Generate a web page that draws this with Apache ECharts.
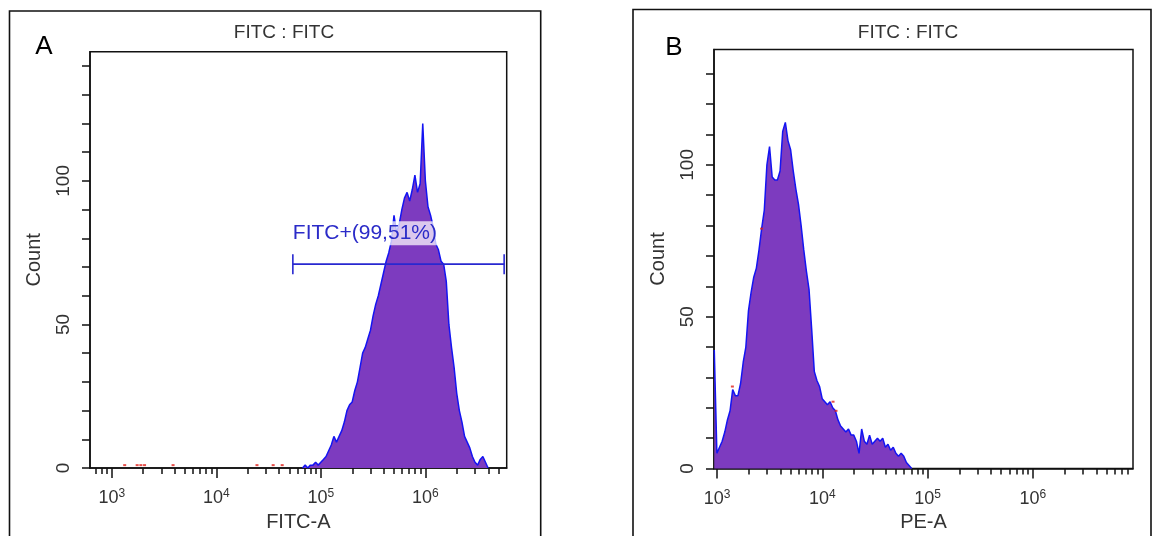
<!DOCTYPE html>
<html>
<head>
<meta charset="utf-8">
<script src="https://cdn.jsdelivr.net/npm/echarts@6/dist/echarts.min.js"></script>
<style>
  html, body { margin: 0; padding: 0; background: #fff; }
  #chart { width: 1158px; height: 536px; }
</style>
</head>
<body>
<div id="chart"></div>
<script>
// Two flow-cytometry histograms: FITC-A channel (A) and PE-A channel (B).
// Channels are evenly spaced in log10 units.
const BIN_STEP = 0.025;          // decades per channel
const binStartA = 4.825;         // log10 of first channel, FITC-A
const countsA = [
  0, 1, 0, 1, 1, 2, 1, 2, 3, 4,
  6, 8, 11, 9, 11, 13, 16, 20, 22, 23,
  27, 30, 35, 40, 42, 45, 48, 53, 57, 60,
  64, 68, 72, 75, 79, 88, 82, 85, 90, 94,
  96, 93, 97, 102, 96, 99, 120, 100, 91, 88,
  84, 78, 76, 72, 71, 65, 50, 42, 35, 26,
  20, 16, 11, 9, 7, 4, 2, 1, 3, 4,
  2, 0
];
const binStartB = 2.974;         // log10 of first channel, PE-A
const countsB = [
  39, 5, 7, 9, 12, 16, 19, 26, 24, 24,
  28, 35, 40, 52, 58, 63, 66, 72, 79, 85,
  100, 106, 96, 95, 95, 98, 111, 114, 108, 105,
  98, 92, 87, 80, 72, 65, 59, 46, 32, 29,
  27, 23, 22, 21, 22, 20, 19, 16, 14, 13,
  12, 13, 11, 11, 9, 5, 13, 9, 8, 11,
  8, 9, 10, 9, 10, 7, 8, 6, 7, 5,
  4, 5, 4, 2, 1, 0
];
// isolated events of the overlaid (red) sample: [intensity, count]
const redEventsA = [[1330, 1], [1750, 1], [1900, 1], [2060, 1], [3860, 1], [24500, 1], [35000, 1], [42700, 1]];
const redEventsB = [[1400, 27], [2650, 79], [12650, 22], [13500, 19]];

// gate on panel A
const gateLabel = 'FITC+(99,51%)';
const gateFrom = 54000;
const gateTo = 5670000;
const gateLevel = 71;

// axes
const decadeExponents = [3, 4, 5, 6];
const minorMultipliers = [2, 3, 4, 5, 6, 7, 8, 9];
const countTicks = [0, 10, 20, 30, 40, 50, 60, 70, 80, 90, 100, 110, 120, 130, 140];
const countLabels = [0, 50, 100];
const rangeA = [2.792, 6.778];   // log10 extent of FITC-A axis
const rangeB = [2.9715, 6.951];  // log10 extent of PE-A axis
const maxCountA = 145;
const maxCountB = 138;

const FONT = "'Liberation Sans', Arial, sans-serif";
const TEXT = '#333';
const FILL = '#7d3bbf';
const EDGE = '#1414f2';

const minorTicks = [];
[2, 3, 4, 5, 6].forEach(e => minorMultipliers.forEach(m => minorTicks.push(e + Math.log10(m))));

const histData = (start, counts) => counts.map((c, i) => [+(start + i * BIN_STEP).toFixed(4), c]);
const eventData = list => list.map(([v, c]) => [Math.log10(v), c]);

function majorAxis(gridIndex, range, name) {
  return {
    type: 'value', gridIndex, min: range[0], max: range[1], position: 'bottom',
    name, nameLocation: 'middle', nameGap: 44,
    nameTextStyle: { fontFamily: FONT, fontSize: 20, color: TEXT },
    splitLine: { show: false },
    axisLine: { show: true, onZero: false, lineStyle: { color: '#111', width: 1.5 } },
    axisTick: { show: true, length: 10, customValues: decadeExponents, lineStyle: { color: '#111', width: 1.5 } },
    axisLabel: {
      customValues: decadeExponents, margin: 20,
      formatter: v => '{b|10}{s|' + Math.round(v) + '}',
      rich: {
        b: { fontFamily: FONT, fontSize: 18, color: TEXT },
        s: { fontFamily: FONT, fontSize: 12, color: TEXT, padding: [0, 0, 9, 0] }
      }
    }
  };
}
function minorAxis(gridIndex, range) {
  return {
    type: 'value', gridIndex, min: range[0], max: range[1], position: 'bottom',
    splitLine: { show: false },
    axisLine: { show: false, onZero: false },
    axisTick: { show: true, length: 6, customValues: minorTicks, lineStyle: { color: '#111', width: 1.5 } },
    axisLabel: { show: false }
  };
}
function countAxis(gridIndex, max) {
  return {
    type: 'value', gridIndex, min: 0, max,
    name: 'Count', nameLocation: 'middle', nameGap: 46, nameRotate: 90,
    nameTextStyle: { fontFamily: FONT, fontSize: 20, color: TEXT },
    splitLine: { show: false },
    axisLine: { show: true, lineStyle: { color: '#111', width: 1.5 } },
    axisTick: { show: true, length: 8, customValues: countTicks, lineStyle: { color: '#111', width: 1.5 } },
    axisLabel: { customValues: countLabels, rotate: 90, margin: 17, fontFamily: FONT, fontSize: 19, color: TEXT }
  };
}
function histSeries(xAxisIndex, yAxisIndex, data) {
  return {
    type: 'line', xAxisIndex, yAxisIndex, data, symbol: 'none', smooth: false, z: 3,
    lineStyle: { color: EDGE, width: 1.5 },
    areaStyle: { color: FILL, opacity: 1 }
  };
}
function eventSeries(xAxisIndex, yAxisIndex, data) {
  return {
    type: 'scatter', xAxisIndex, yAxisIndex, data, symbol: 'rect', symbolSize: [3, 2], z: 4,
    itemStyle: { color: '#e0201a' }
  };
}

const chart = echarts.init(document.getElementById('chart'), null, { renderer: 'canvas' });

chart.setOption({
  animation: false,
  backgroundColor: '#fff',
  grid: [
    { left: 90, top: 51.7, right: 651.3, bottom: 68, outerBoundsMode: 'none', containLabel: false,
      show: true, borderColor: '#111', borderWidth: 1.5 },
    { left: 714, top: 49.5, right: 25, bottom: 67.5, outerBoundsMode: 'none', containLabel: false,
      show: true, borderColor: '#111', borderWidth: 1.5 }
  ],
  xAxis: [
    majorAxis(0, rangeA, 'FITC-A'),
    minorAxis(0, rangeA),
    majorAxis(1, rangeB, 'PE-A'),
    minorAxis(1, rangeB)
  ],
  yAxis: [countAxis(0, maxCountA), countAxis(1, maxCountB)],
  series: [
    histSeries(0, 0, histData(binStartA, countsA)),
    eventSeries(0, 0, eventData(redEventsA)),
    histSeries(2, 1, histData(binStartB, countsB)),
    eventSeries(2, 1, eventData(redEventsB)),
    {
      // gate bar with end caps and its label
      type: 'custom', xAxisIndex: 0, yAxisIndex: 0, z: 6,
      data: [[Math.log10(gateFrom), Math.log10(gateTo), gateLevel]],
      encode: { x: [0, 1], y: 2 },
      renderItem: (params, api) => {
        const p0 = api.coord([api.value(0), api.value(2)]);
        const p1 = api.coord([api.value(1), api.value(2)]);
        const stroke = { stroke: '#2828d0', lineWidth: 1.6 };
        return {
          type: 'group',
          children: [
            { type: 'line', shape: { x1: p0[0], y1: p0[1], x2: p1[0], y2: p1[1] }, style: stroke },
            { type: 'line', shape: { x1: p0[0], y1: p0[1] - 10, x2: p0[0], y2: p0[1] + 10 }, style: stroke },
            { type: 'line', shape: { x1: p1[0], y1: p1[1] - 10, x2: p1[0], y2: p1[1] + 10 }, style: stroke },
            {
              type: 'text', z2: 10,
              style: {
                text: gateLabel, x: p0[0] - 1, y: p0[1] - 31,
                verticalAlign: 'middle', align: 'left',
                font: '21px ' + FONT, fill: '#2b2bc8',
                backgroundColor: 'rgba(255,255,255,0.72)', padding: [2, 1, 1, 1]
              }
            }
          ]
        };
      }
    }
  ],
  graphic: [
    { type: 'rect', shape: { x: 9.5, y: 11, width: 531.2, height: 540 }, style: { fill: null, stroke: '#111', lineWidth: 1.6 }, z: 0 },
    { type: 'rect', shape: { x: 633, y: 9.5, width: 518, height: 540 }, style: { fill: null, stroke: '#111', lineWidth: 1.6 }, z: 0 },
    { type: 'text', style: { text: 'A', x: 44, y: 47, align: 'center', verticalAlign: 'middle', font: '26px ' + FONT, fill: '#000' } },
    { type: 'text', style: { text: 'B', x: 674, y: 48, align: 'center', verticalAlign: 'middle', font: '26px ' + FONT, fill: '#000' } },
    { type: 'text', style: { text: 'FITC : FITC', x: 284, y: 33, align: 'center', verticalAlign: 'middle', font: '19px ' + FONT, fill: TEXT } },
    { type: 'text', style: { text: 'FITC : FITC', x: 908, y: 33, align: 'center', verticalAlign: 'middle', font: '19px ' + FONT, fill: TEXT } }
  ]
});
</script>
</body>
</html>
